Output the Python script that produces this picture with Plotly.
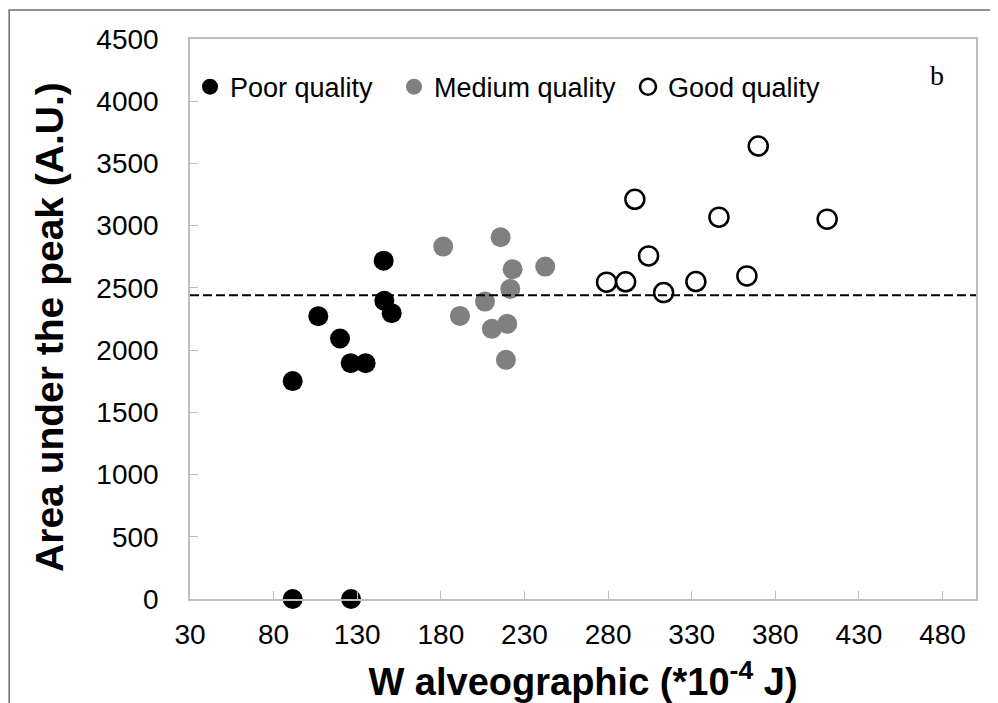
import plotly.graph_objects as go

# ---- data ----
poor_w = [91.4, 106.7, 119.7, 126.1, 135.0, 145.8, 146.2, 150.6, 91.4, 126.3]
poor_area = [1751, 2273, 2093, 1895, 1895, 2719, 2396, 2297, 0, 0]

medium_w = [181.4, 215.7, 222.9, 242.4, 221.5, 206.4, 191.4, 210.5, 219.7, 218.9]
medium_area = [2832, 2907, 2650, 2671, 2492, 2390, 2275, 2171, 2211, 1922]

good_w = [369.8, 296.0, 346.3, 411.0, 304.2, 279.1, 290.5, 313.2, 332.5, 363.0]
good_area = [3640, 3212, 3068, 3052, 2757, 2546, 2549, 2462, 2551, 2596]

threshold = 2440

x_range = [30, 500]
x_ticks = [30, 80, 130, 180, 230, 280, 330, 380, 430, 480]
y_range = [0, 4500]
y_ticks = [0, 500, 1000, 1500, 2000, 2500, 3000, 3500, 4000, 4500]

series_names = ["Poor quality", "Medium quality", "Good quality"]
x_title = "W alveographic (*10<sup>-4</sup> J)"
y_title = "Area under the peak (A.U.)"

SANS = "Liberation Sans, Arial, sans-serif"
AXIS_GREY = "#bdbdbd"

fig = go.Figure()

fig.add_trace(go.Scatter(
    x=poor_w, y=poor_area, mode="markers", name=series_names[0],
    marker=dict(size=20, color="black", line=dict(width=0)),
    cliponaxis=False, legendwidth=159,
))
fig.add_trace(go.Scatter(
    x=medium_w, y=medium_area, mode="markers", name=series_names[1],
    marker=dict(size=20, color="#808080", line=dict(width=0)),
    cliponaxis=False, legendwidth=189,
))
fig.add_trace(go.Scatter(
    x=good_w, y=good_area, mode="markers", name=series_names[2],
    marker=dict(size=19, color="white", line=dict(width=2.5, color="black")),
    cliponaxis=False, legendwidth=160,
))

# dashed threshold line
fig.add_shape(type="line", xref="x", yref="y",
              x0=x_range[0], x1=x_range[1], y0=threshold, y1=threshold,
              line=dict(color="black", width=2, dash="9px,4px"), layer="above")

# outer frame of the figure
fig.add_shape(type="rect", xref="paper", yref="paper",
              x0=-0.2301, x1=1.05, y0=-0.22, y1=1.0518,
              line=dict(color="#6e6e6e", width=1.5), fillcolor="rgba(0,0,0,0)",
              layer="below")

fig.add_annotation(text="b", xref="paper", yref="paper", x=0.9498, y=0.9357,
                   showarrow=False, xanchor="center", yanchor="middle",
                   font=dict(family="Liberation Serif, Times New Roman, serif",
                             size=28, color="black"))

# y-axis title
fig.add_annotation(text="<b>" + y_title + "</b>", xref="paper", yref="paper",
                   x=-0.178, y=0.486, textangle=-90, showarrow=False,
                   xanchor="center", yanchor="middle",
                   font=dict(family=SANS, size=39, color="black"))

fig.update_layout(
    width=990, height=695,
    margin=dict(l=182, r=21.5, t=31, b=103.7, autoexpand=False),
    paper_bgcolor="white", plot_bgcolor="white",
    showlegend=True,
    legend=dict(orientation="h", x=0.0, xanchor="left", y=0.914, yanchor="middle",
                font=dict(family=SANS, size=27, color="black"),
                bgcolor="rgba(0,0,0,0)", itemsizing="trace"),
    xaxis=dict(
        range=x_range, tickmode="array", tickvals=x_ticks,
        ticks="inside", ticklen=8, tickcolor=AXIS_GREY, tickwidth=1.2,
        showline=True, linecolor=AXIS_GREY, linewidth=1.5, mirror=True,
        showgrid=False, zeroline=False,
        tickfont=dict(family=SANS, size=28, color="black"),
        ticklabelstandoff=10,
        title=dict(text=x_title,
                   font=dict(family=SANS, size=38, color="black", weight="bold"),
                   standoff=19),
    ),
    yaxis=dict(
        range=y_range, tickmode="array", tickvals=y_ticks,
        ticks="inside", ticklen=8, tickcolor=AXIS_GREY, tickwidth=1.2,
        showline=True, linecolor=AXIS_GREY, linewidth=1.5, mirror=True,
        showgrid=False, zeroline=False,
        tickfont=dict(family=SANS, size=28, color="black"),
        ticklabelstandoff=24,
    ),
)

fig.write_html("out.html")
